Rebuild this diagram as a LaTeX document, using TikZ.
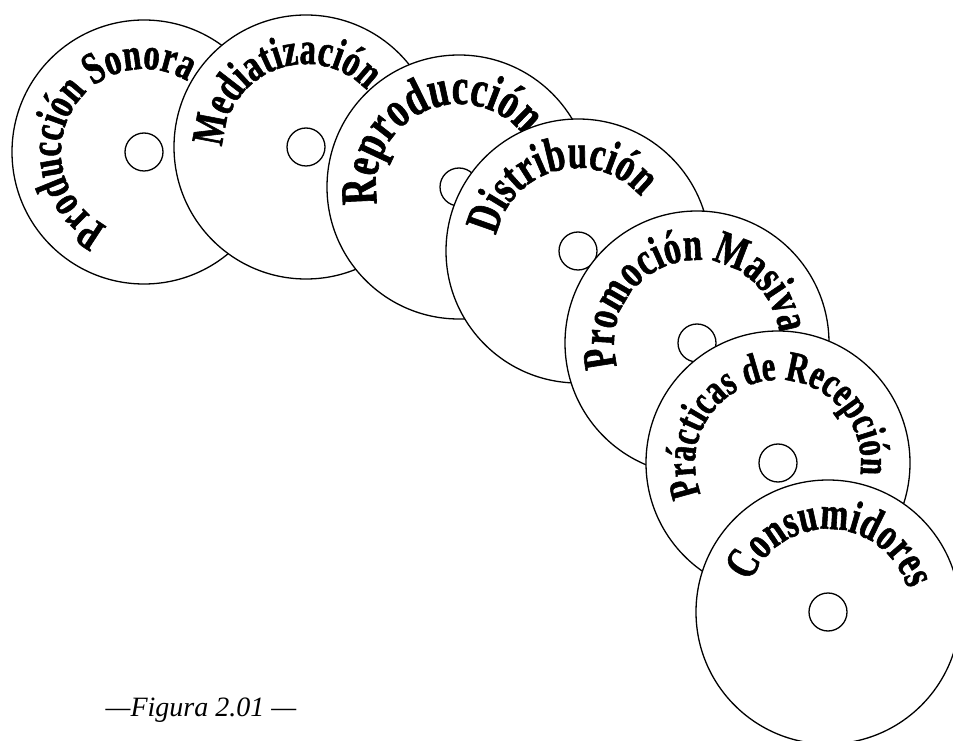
\documentclass[tikz,border=0pt]{standalone}
\usepackage{fontspec}
\setmainfont{Liberation Serif}
\newfontfamily\arcfont[FakeStretch=0.72,FakeBold=1.2]{Liberation Serif}
\usetikzlibrary{decorations.text}
\tikzset{
  disc/.style={draw=black, fill=white, line width=1.3pt},
  hole/.style={draw=black, line width=1.3pt},
  captext/.style={font=\itshape\fontsize{28pt}{30pt}\selectfont, inner sep=0pt}
}
\newcommand\mydisc[5]{%
  \coordinate (#1) at (#2);
  \filldraw[disc] (#1) circle[radius=132pt];
  \draw[hole] (#1) circle[radius=19pt];
  \path[decorate, decoration={text along path, text align=center,
    text={|\arcfont\bfseries\fontsize{#4pt}{#4pt}\selectfont|#5}}]
    ([shift={(#3+175:83pt)}]#1) arc[start angle=#3+175, end angle=#3-175, radius=83pt];
}
\begin{document}
\begin{tikzpicture}[x=1pt,y=1pt]
\useasboundingbox (0,0) rectangle (953,740);
\clip (0,0) rectangle (953,740);
\mydisc{d1}{144,588}{151}{45.5}{Producción Sonora}
\mydisc{d2}{306,593}{111.5}{45.5}{Mediatización}
\mydisc{d3}{459,553}{115}{51.5}{Reproducción}
\mydisc{d4}{578,489}{105}{48.5}{Distribución}
\mydisc{d5}{697,397}{101.5}{47.5}{Promoción Masiva}
\mydisc{d6}{778,277}{97}{43}{Prácticas de Recepción}
\mydisc{d7}{828,128}{87.5}{46.5}{Consumidores}
\node[captext] (cap) at (201,30) {—Figura 2.01 —};
\end{tikzpicture}
\end{document}
